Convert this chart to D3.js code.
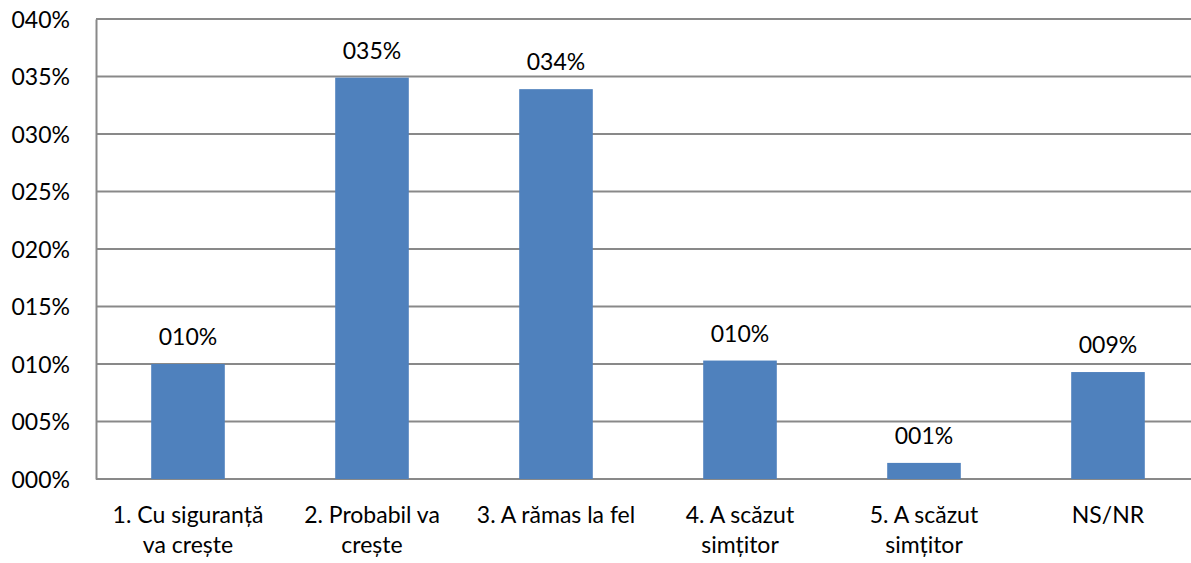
<!DOCTYPE html>
<html>
<head>
<meta charset="utf-8">
<script src="https://cdn.jsdelivr.net/npm/d3@7"></script>
<style>
  body { margin: 0; background: #fff; }
  text { font-family: Lato, "Open Sans", sans-serif; fill: #000; }
</style>
</head>
<body>
<div id="chart"></div>
<script>
// data
var categories = [
  ["1. Cu siguranță", "va crește"],
  ["2. Probabil va", "crește"],
  ["3. A rămas la fel"],
  ["4. A scăzut", "simțitor"],
  ["5. A scăzut", "simțitor"],
  ["NS/NR"]
];
var values = [0.100, 0.349, 0.339, 0.103, 0.014, 0.093];
var valueLabels = ["010%", "035%", "034%", "010%", "001%", "009%"];
var yTicks = [0, 0.05, 0.10, 0.15, 0.20, 0.25, 0.30, 0.35, 0.40];

var W = 1191, H = 563;
var margin = {top: 19, right: -9, bottom: 84, left: 96},
    width = W - margin.left - margin.right,
    height = H - margin.top - margin.bottom;

var svg = d3.select("#chart")
  .append("svg")
    .attr("width", W)
    .attr("height", H)
  .append("g")
    .attr("transform", "translate(" + margin.left + "," + margin.top + ")");

var x = d3.scaleBand()
  .domain(d3.range(categories.length))
  .range([0, width])
  .paddingInner(0.6)
  .paddingOuter(0.3);

var y = d3.scaleLinear()
  .domain([0, 0.40])
  .range([height, 0]);

// gridlines
svg.selectAll(".grid")
  .data(yTicks)
  .enter()
  .append("line")
    .attr("x1", 0)
    .attr("x2", width)
    .attr("y1", d => y(d))
    .attr("y2", d => y(d))
    .style("stroke", "#898989")
    .style("stroke-width", 2);

// y axis
var yAxis = svg.append("g")
  .call(d3.axisLeft(y).tickValues(yTicks).tickSize(0).tickPadding(26)
    .tickFormat(d => String(Math.round(d * 100)).padStart(3, "0") + "%"));
yAxis.select(".domain").style("stroke", "#898989").style("stroke-width", 2);
yAxis.selectAll("text")
  .style("font-family", "Lato, 'Open Sans', sans-serif")
  .style("font-size", "23px")
  .attr("dy", "0.35em");

// bars
svg.selectAll(".bar")
  .data(values)
  .enter()
  .append("rect")
    .attr("x", (d, i) => x(i))
    .attr("y", d => y(d))
    .attr("width", x.bandwidth())
    .attr("height", d => height - y(d))
    .style("fill", "#4f81bd");

// value labels
svg.selectAll(".vlabel")
  .data(values)
  .enter()
  .append("text")
    .attr("x", (d, i) => x(i) + x.bandwidth() / 2)
    .attr("y", d => y(d) - 19)
    .attr("text-anchor", "middle")
    .style("font-size", "23px")
    .text((d, i) => valueLabels[i]);

// category labels
var cat = svg.selectAll(".cat")
  .data(categories)
  .enter()
  .append("text")
    .attr("x", (d, i) => x(i) + x.bandwidth() / 2)
    .attr("y", height + 44)
    .attr("text-anchor", "middle")
    .style("font-size", "23px");

cat.selectAll("tspan")
  .data(d => d)
  .enter()
  .append("tspan")
    .attr("x", function() { return d3.select(this.parentNode).attr("x"); })
    .attr("dy", (d, i) => i === 0 ? 0 : 30)
    .text(d => d);
</script>
</body>
</html>
